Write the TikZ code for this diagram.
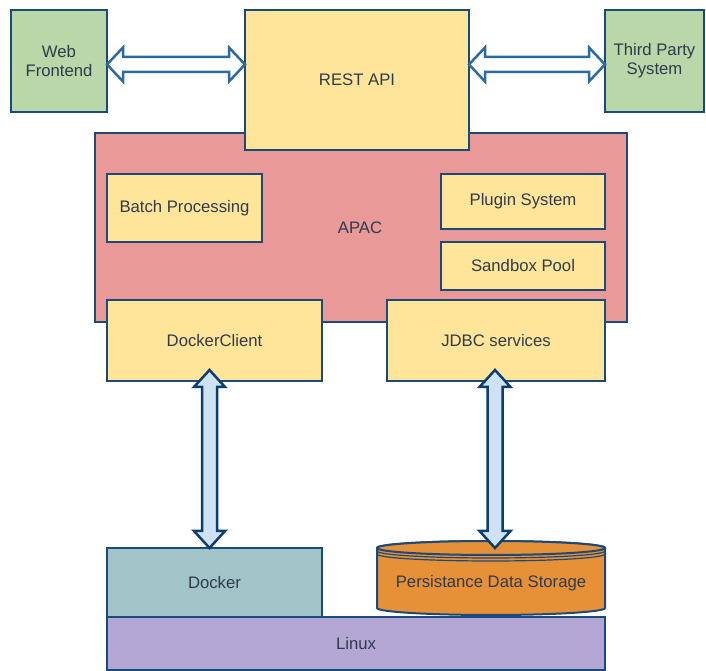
\documentclass[tikz,border=0pt]{standalone}
\usepackage{fontspec}
\setmainfont{Liberation Sans}
\usetikzlibrary{calc}
\definecolor{bordercol}{HTML}{1B4A78}
\definecolor{txtcol}{HTML}{2F3B4C}
\definecolor{greenfill}{HTML}{B9D7A8}
\definecolor{yellowfill}{HTML}{FFE599}
\definecolor{pinkfill}{HTML}{EA9999}
\definecolor{tealfill}{HTML}{A2C4C9}
\definecolor{purplefill}{HTML}{B4A7D6}
\definecolor{orangefill}{HTML}{E69138}
\definecolor{harrcol}{HTML}{2D6AA5}
\definecolor{varrfill}{HTML}{CFE2F3}
\definecolor{varrcol}{HTML}{0E3E6E}
\tikzset{
  box/.style={draw=bordercol, line width=2pt, rectangle, inner sep=0pt, outer sep=0pt,
    text=txtcol, font=\fontsize{16.7}{19}\selectfont, align=center},
  greenbox/.style={box, fill=greenfill},
  yellowbox/.style={box, fill=yellowfill},
  pinkbox/.style={box, fill=pinkfill},
  tealbox/.style={box, fill=tealfill},
  purplebox/.style={box, fill=purplefill},
  plaintext/.style={text=txtcol, font=\fontsize{16.7}{19}\selectfont, inner sep=0pt},
  harrow/.style={draw=harrcol, fill=white, line width=2.5pt, line join=miter},
  varrow/.style={draw=varrcol, fill=varrfill, line width=2.5pt, line join=miter},
  cyl/.style={draw=bordercol, line width=2pt, fill=orangefill}
}
\newcommand\hblock[2]{%
  \path[harrow] let \p1=(#1), \p2=(#2) in
    (\x1,\y1) -- (\x1+16pt,\y1+17pt) -- (\x1+16pt,\y1+7.5pt) -- (\x2-16pt,\y1+7.5pt)
    -- (\x2-16pt,\y1+17pt) -- (\x2,\y1) -- (\x2-16pt,\y1-17pt) -- (\x2-16pt,\y1-7.5pt)
    -- (\x1+16pt,\y1-7.5pt) -- (\x1+16pt,\y1-17pt) -- cycle;}
\newcommand\vblock[2]{%
  \path[varrow] let \p1=(#1), \p2=(#2) in
    (\x1,\y1) -- (\x1+15.5pt,\y1-17pt) -- (\x1+7.5pt,\y1-17pt) -- (\x1+7.5pt,\y2+17pt)
    -- (\x1+15.5pt,\y2+17pt) -- (\x1,\y2) -- (\x1-15.5pt,\y2+17pt) -- (\x1-7.5pt,\y2+17pt)
    -- (\x1-7.5pt,\y1-17pt) -- (\x1-15.5pt,\y1-17pt) -- cycle;}
\begin{document}
\begin{tikzpicture}[x=1pt,y=1pt]
\useasboundingbox[fill=white] (0,0) rectangle (706,671);
% APAC container
\node[pinkbox, minimum width=532, minimum height=189] (apac) at (361,443.5) {};
\node[plaintext] (apaclabel) at (360,443) {APAC};
% top row
\node[greenbox, minimum width=96, minimum height=102] (web) at (59,610) {Web\\Frontend};
\node[yellowbox, minimum width=224, minimum height=140] (rest) at (357,591) {REST API};
\node[greenbox, minimum width=99, minimum height=102] (third) at (654.5,610) {Third Party\\System};
% inner boxes
\node[yellowbox, minimum width=155, minimum height=68] (batch) at (184.5,463) {Batch Processing};
\node[yellowbox, minimum width=164, minimum height=55] (plugin) at (523,469.5) {Plugin System};
\node[yellowbox, minimum width=164, minimum height=48] (sandbox) at (523,405) {Sandbox Pool};
\node[yellowbox, minimum width=215, minimum height=81] (dclient) at (214.5,330.5) {DockerClient};
\node[yellowbox, minimum width=218, minimum height=81] (jdbc) at (496,330.5) {JDBC services};
% bottom
\node[purplebox, minimum width=498, minimum height=53] (linux) at (356,27.5) {Linux};
\node[tealbox, minimum width=215, minimum height=69] (docker) at (214.5,88.5) {Docker};
% datastore cylinder
\path[cyl] (377,123) -- (377,63) arc[start angle=180, end angle=360, x radius=114, y radius=7]
  -- (605,123) arc[start angle=0, end angle=180, x radius=114, y radius=7] -- cycle;
\draw[cyl] (491,123) ellipse[x radius=114, y radius=7];
\draw[draw=bordercol, line width=1.2pt] (377,120) arc[start angle=180, end angle=360, x radius=114, y radius=7];
\draw[draw=bordercol, line width=1.2pt] (377,117) arc[start angle=180, end angle=360, x radius=114, y radius=7];
\node[plaintext] (store) at (491,88) {Persistance Data Storage};
\coordinate (storetop) at (495,123);
% connectors
\coordinate (r1) at (rest.east |- third.west);
\hblock{[yshift=-3.5pt]web.east}{rest.west}
\hblock{[yshift=-3.5pt]r1}{third.west}
\coordinate (dctop) at (209.5,301);
\coordinate (jdbctop) at (495,301);
\vblock{dctop}{docker.north -| dctop}
\vblock{jdbctop}{storetop}
\end{tikzpicture}
\end{document}
